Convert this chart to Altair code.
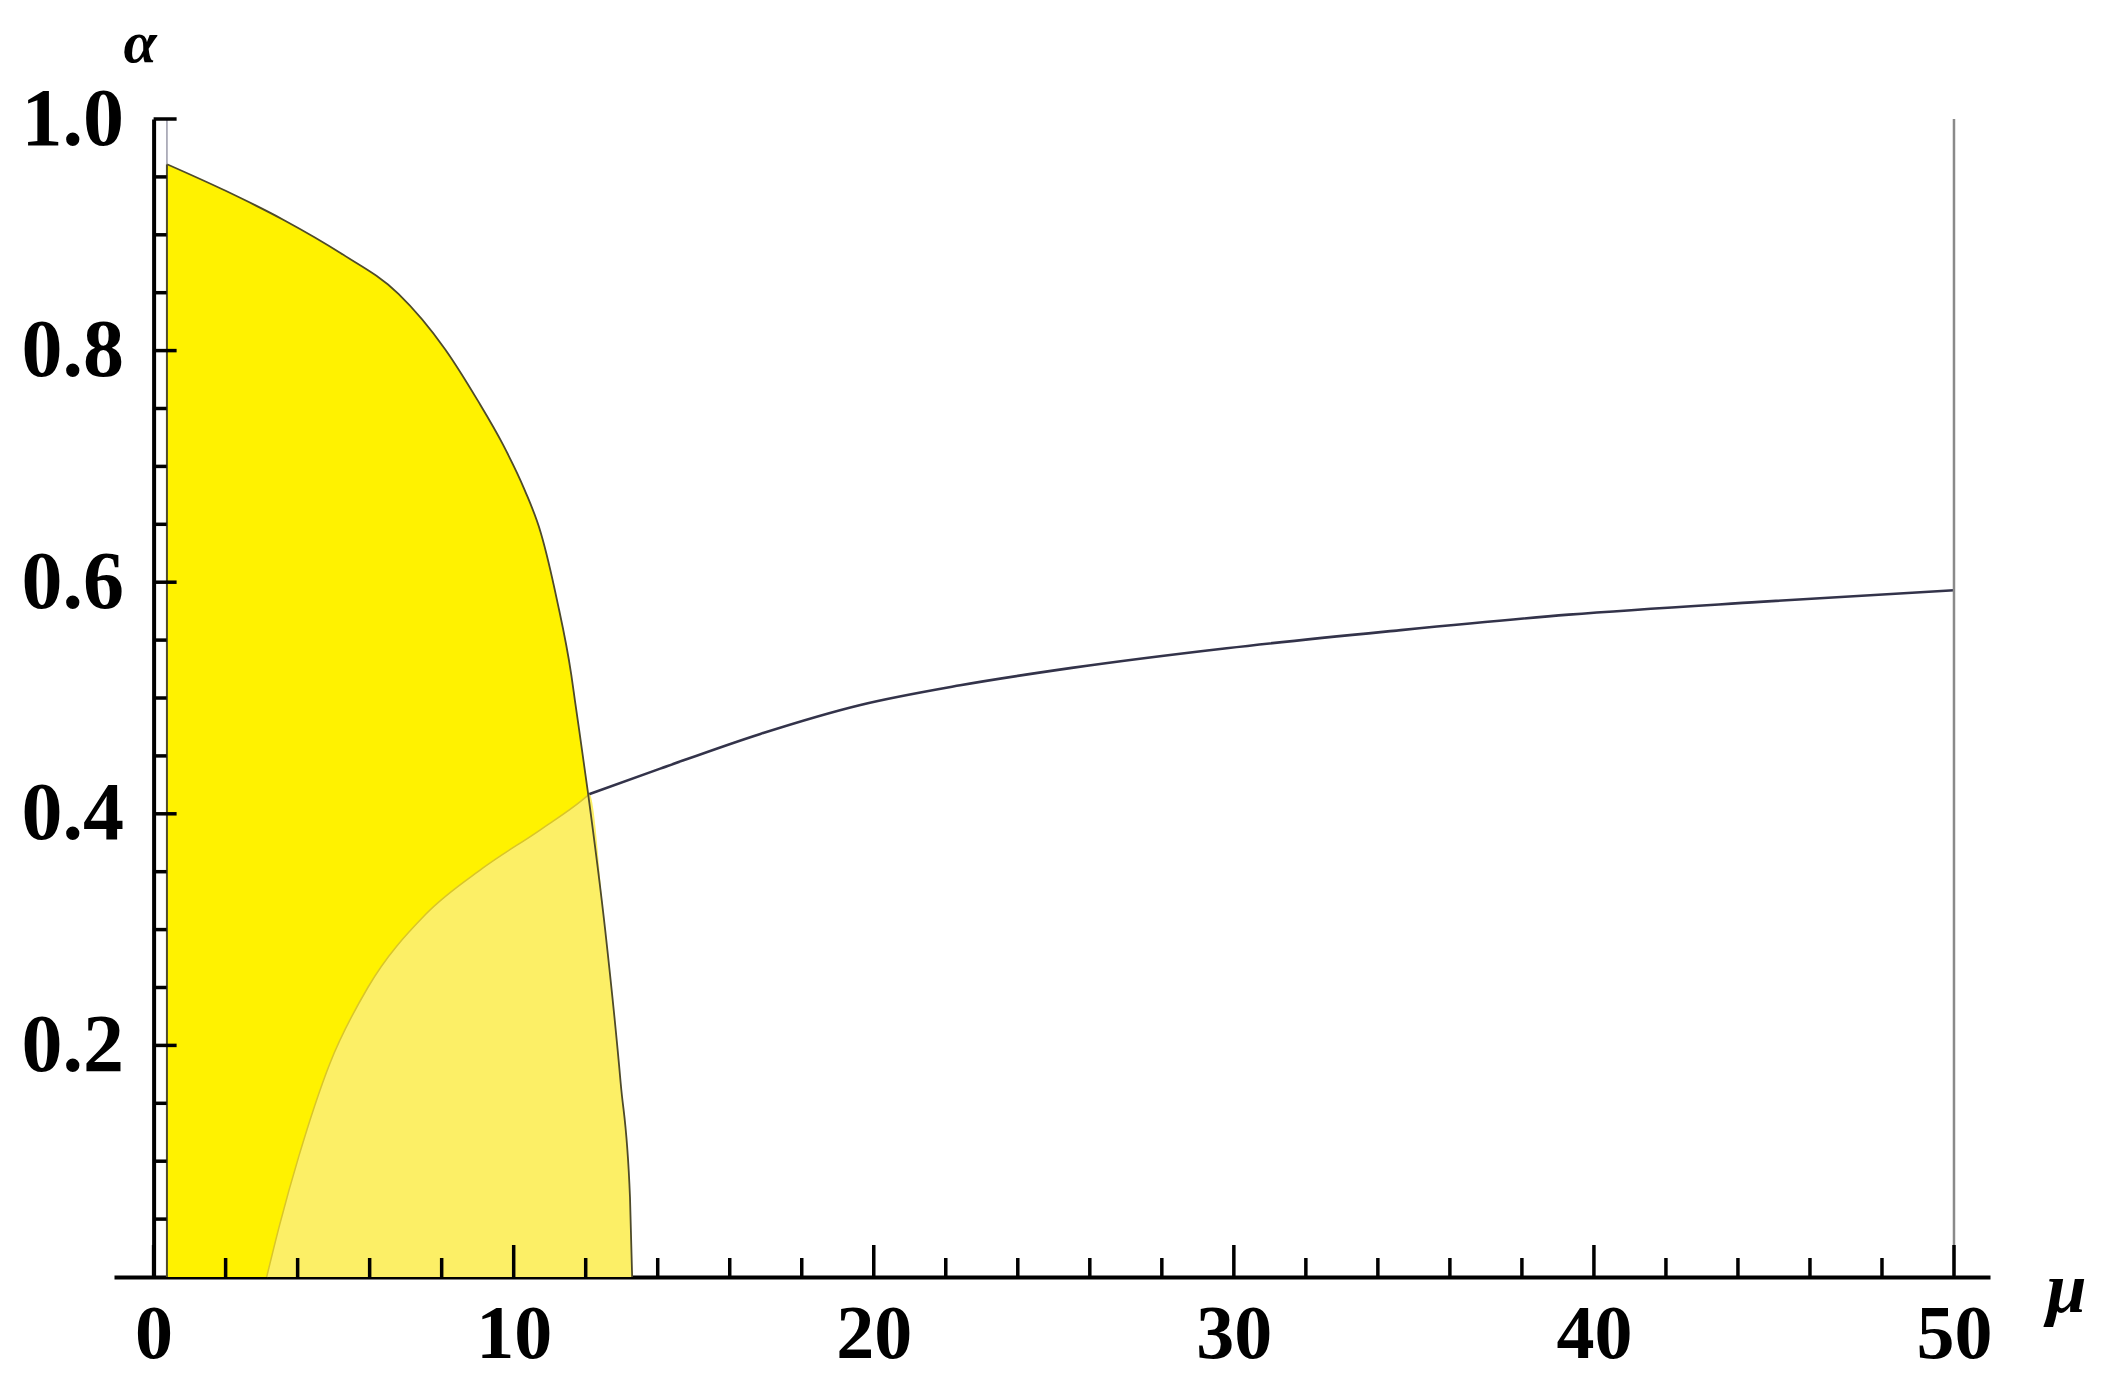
import altair as alt
import pandas as pd

# ---------------- data ----------------
# outer (bright yellow) region boundary
upper_mu = [0.37, 2.0, 3.6, 5.2, 6.8, 8.1, 9.0, 9.7, 10.3, 10.75, 11.2, 11.6, 11.7, 12.06, 12.54, 12.97, 13.23, 13.29]
upper_alpha = [0.961, 0.938, 0.913, 0.884, 0.849, 0.801, 0.757, 0.719, 0.680, 0.643, 0.585, 0.520, 0.498, 0.419, 0.300, 0.168, 0.069, 0.0]

# inner (light yellow) region boundary, up to the crossing point
inner_mu = [3.14, 3.5, 4.04, 4.89, 5.95, 7.55, 9.14, 10.73, 11.91, 12.1]
inner_alpha = [0.0, 0.045, 0.105, 0.184, 0.250, 0.313, 0.353, 0.386, 0.412, 0.417]

# lower-branch continuation (dark line) beyond the crossing
branch_mu = [12.1, 14.07, 16.85, 19.63, 22.4, 25.5, 29.8, 34.44, 39.3, 44.6, 50.0]
branch_alpha = [0.417, 0.439, 0.469, 0.494, 0.511, 0.526, 0.543, 0.558, 0.572, 0.583, 0.593]

left_edge_mu = 0.37
right_line_mu = 50
alpha_top = 1.0

x_major = [0, 10, 20, 30, 40, 50]
x_minor = [2, 4, 6, 8, 12, 14, 16, 18, 22, 24, 26, 28, 32, 34, 36, 38, 42, 44, 46, 48]
y_major = [0.2, 0.4, 0.6, 0.8, 1.0]
y_minor = [0.05, 0.1, 0.15, 0.25, 0.3, 0.35, 0.45, 0.5, 0.55, 0.65, 0.7, 0.75, 0.85, 0.9, 0.95]

# ---------------- tables ----------------
outer_df = pd.DataFrame({"mu": upper_mu, "alpha": upper_alpha, "base": 0.0})
cross = inner_mu[-1]
light_mu = inner_mu + [m for m in upper_mu if m > cross]
light_alpha = inner_alpha + [a for m, a in zip(upper_mu, upper_alpha) if m > cross]
light_df = pd.DataFrame({"mu": light_mu, "alpha": light_alpha, "base": 0.0})
upper_line_df = pd.DataFrame({"mu": upper_mu, "alpha": upper_alpha})
inner_line_df = pd.DataFrame({"mu": inner_mu, "alpha": inner_alpha})
branch_df = pd.DataFrame({"mu": branch_mu, "alpha": branch_alpha})
left_edge_df = pd.DataFrame({"mu": [left_edge_mu, left_edge_mu], "alpha": [0.0, upper_alpha[0]]})
left_top_df = pd.DataFrame({"mu": [left_edge_mu, left_edge_mu], "alpha": [upper_alpha[0], alpha_top]})
right_df = pd.DataFrame({"mu": [right_line_mu, right_line_mu], "alpha": [0.0, alpha_top]})
xmaj_df = pd.DataFrame({"mu": x_major, "alpha": 0.0})
xmin_df = pd.DataFrame({"mu": x_minor, "alpha": 0.0})
ymaj_df = pd.DataFrame({"mu": 0.0, "alpha": y_major})
ymin_df = pd.DataFrame({"mu": 0.0, "alpha": y_minor})

# ---------------- layout ----------------
W, H = 1876, 1158
XMIN, XMAX = -1.1, 51.0
px_per_unit = W / (XMAX - XMIN)
FONT = "Liberation Serif"

xscale = alt.Scale(domain=[XMIN, XMAX], nice=False, zero=False)
yscale = alt.Scale(domain=[0, 1.0], nice=False, zero=False)

xaxis = alt.Axis(
    values=x_major, format="d", grid=False, ticks=False, tickSize=0,
    domainColor="black", domainWidth=4,
    labelFont=FONT, labelFontSize=76, labelFontWeight="bold", labelColor="black",
    labelPadding=20, labelFlush=False, labelOverlap=False,
    title="μ", titleFont=FONT, titleFontSize=72, titleFontStyle="italic",
    titleFontWeight="bold", titleColor="black", titleAngle=0,
    titleX=1952, titleY=12, titleAlign="center", titleBaseline="middle",
)
yaxis = alt.Axis(
    values=y_major, format=".1f", grid=False, ticks=False, tickSize=0,
    offset=-(0 - XMIN) * px_per_unit,
    domainColor="black", domainWidth=4,
    labelFont=FONT, labelFontSize=82, labelFontWeight="bold", labelColor="black",
    labelPadding=30, labelFlush=False, labelOverlap=False,
    title="α", titleFont=FONT, titleFontSize=60, titleFontStyle="italic",
    titleFontWeight="bold", titleColor="black", titleAngle=0,
    titleX=-14, titleY=-76, titleAlign="center", titleBaseline="middle",
)


def X(field="mu"):
    return alt.X(field, type="quantitative", scale=xscale, axis=xaxis)


def Y(field="alpha"):
    return alt.Y(field, type="quantitative", scale=yscale, axis=yaxis)


INTERP = "monotone"

outer = alt.Chart(outer_df).mark_area(color="#FFF200", opacity=1, interpolate=INTERP).encode(
    x=X(), y=Y(), y2=alt.Y2("base")
)
light = alt.Chart(light_df).mark_area(color="#FCEF66", opacity=1, interpolate=INTERP).encode(
    x=X(), y=Y(), y2=alt.Y2("base")
)
upper_line = alt.Chart(upper_line_df).mark_line(color="#4e4a2a", strokeWidth=1.8, interpolate=INTERP).encode(
    x=X(), y=Y(), order="mu"
)
inner_line = alt.Chart(inner_line_df).mark_line(color="#d9c52a", strokeWidth=1.5, interpolate=INTERP).encode(
    x=X(), y=Y(), order="mu"
)
left_edge = alt.Chart(left_edge_df).mark_line(color="#4e4a2a", strokeWidth=2).encode(
    x=X(), y=Y()
)
left_top = alt.Chart(left_top_df).mark_line(color="#9a9aaa", strokeWidth=1.5).encode(
    x=X(), y=Y()
)
branch = alt.Chart(branch_df).mark_line(color="#33334a", strokeWidth=2.6, interpolate=INTERP).encode(
    x=X(), y=Y(), order="mu"
)
right_line = alt.Chart(right_df).mark_line(color="#8a8a8a", strokeWidth=2.5).encode(
    x=X(), y=Y()
)
xmaj = alt.Chart(xmaj_df).mark_rule(color="black", strokeWidth=3.5, y2Offset=-32).encode(
    x=X(), y=Y(), y2=alt.Y2("alpha")
)
xmin_t = alt.Chart(xmin_df).mark_rule(color="black", strokeWidth=3.5, y2Offset=-19).encode(
    x=X(), y=Y(), y2=alt.Y2("alpha")
)
ymaj = alt.Chart(ymaj_df).mark_rule(color="black", strokeWidth=3.5, x2Offset=23).encode(
    x=X(), x2=alt.X2("mu"), y=Y()
)
ymin_t = alt.Chart(ymin_df).mark_rule(color="black", strokeWidth=3.5, x2Offset=13).encode(
    x=X(), x2=alt.X2("mu"), y=Y()
)

chart = alt.layer(
    outer, light, inner_line, upper_line, left_edge, left_top, branch, right_line,
    xmaj, xmin_t, ymaj, ymin_t,
).properties(
    width=W, height=H,
    autosize=alt.AutoSizeParams(type="none"),
    padding={"left": 106, "top": 111, "right": 114, "bottom": 102},
    background="white",
).configure_view(stroke=None)

chart.save("out.html", embed_options={"renderer": "svg", "actions": False})
